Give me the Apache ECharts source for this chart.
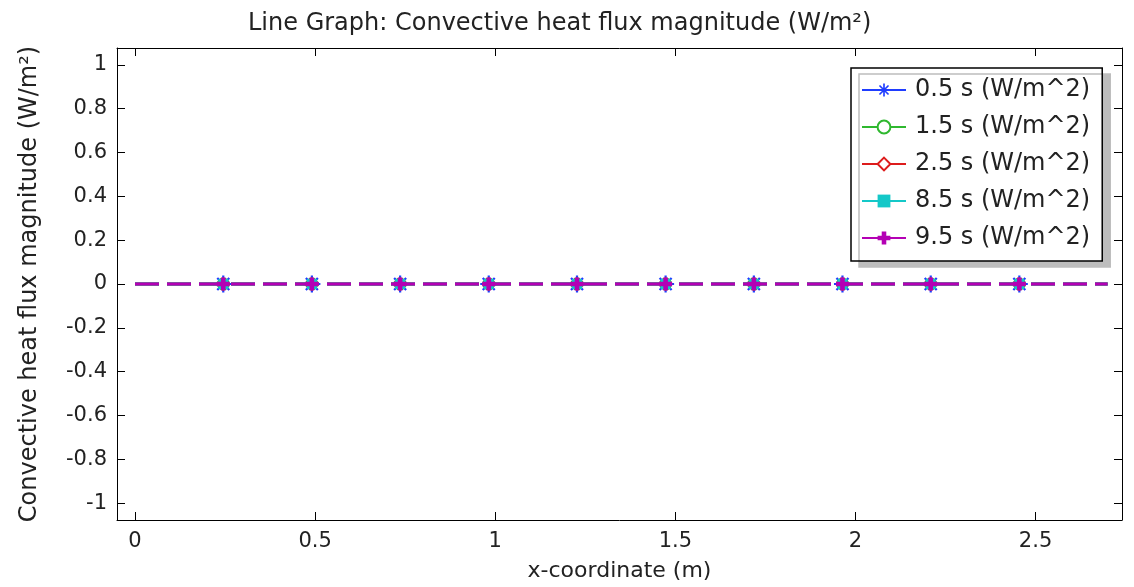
<!DOCTYPE html>
<html>
<head>
<meta charset="utf-8">
<script src="https://cdn.jsdelivr.net/npm/echarts@6/dist/echarts.min.js"></script>
<style>html,body{margin:0;padding:0;background:#fff;overflow:hidden;}#c{width:1134px;height:587px;}</style>
</head>
<body>
<div id="c"></div>
<script>
var titleText = 'Line Graph: Convective heat flux magnitude (W/m²)';
var xName = 'x-coordinate (m)';
var yName = 'Convective heat flux magnitude (W/m²)';
var seriesNames = ['0.5 s (W/m^2)', '1.5 s (W/m^2)', '2.5 s (W/m^2)', '8.5 s (W/m^2)', '9.5 s (W/m^2)'];
var xCoords = [0, 0.245, 0.491, 0.736, 0.982, 1.227, 1.473, 1.718, 1.964, 2.209, 2.455, 2.7];
var s05 = [0, 0, 0, 0, 0, 0, 0, 0, 0, 0, 0, 0];
var s15 = [0, 0, 0, 0, 0, 0, 0, 0, 0, 0, 0, 0];
var s25 = [0, 0, 0, 0, 0, 0, 0, 0, 0, 0, 0, 0];
var s85 = [0, 0, 0, 0, 0, 0, 0, 0, 0, 0, 0, 0];
var s95 = [0, 0, 0, 0, 0, 0, 0, 0, 0, 0, 0, 0];
var markerIdx = [1, 2, 3, 4, 5, 6, 7, 8, 9, 10];
var xTicks = [0, 0.5, 1, 1.5, 2, 2.5];
var yTicks = [-1, -0.8, -0.6, -0.4, -0.2, 0, 0.2, 0.4, 0.6, 0.8, 1];

var FONT = 'DejaVu Sans';
var colors = ['#1f3dff', '#2fb82f', '#dd1c1c', '#14c8c8', '#b400b4'];
var asterisk = 'path://M-1.3,-10L1.3,-10L1.3,10L-1.3,10Z M-10,-1.3L10,-1.3L10,1.3L-10,1.3Z M-7.99,-6.15L-6.15,-7.99L7.99,6.15L6.15,7.99Z M-6.15,7.99L-7.99,6.15L6.15,-7.99L7.99,-6.15Z';
var plus = 'path://M-2.5,-7L2.5,-7L2.5,-2.5L7,-2.5L7,2.5L2.5,2.5L2.5,7L-2.5,7L-2.5,2.5L-7,2.5L-7,-2.5L-2.5,-2.5Z';
var symbols = [asterisk, 'emptyCircle', 'emptyDiamond', 'rect', plus];
var sizes = [17, 11, 11, 10, 13];
var allData = [s05, s15, s25, s85, s95];

function buildData(vals) {
  return xCoords.map(function (x, i) {
    var item = { value: [x, vals[i]] };
    if (markerIdx.indexOf(i) < 0) item.symbol = 'none';
    return item;
  });
}

var XMIN = -0.05, XMAX = 2.74, YMIN = -1.077, YMAX = 1.077;

var chart = echarts.init(document.getElementById('c'), null, { renderer: 'canvas', width: 1134, height: 587 });
var axisLine = { show: true, onZero: false, lineStyle: { color: '#000', width: 1 } };
var option = {
  animation: false,
  backgroundColor: '#fff',
  title: {
    text: titleText, left: 243, top: 7,
    textStyle: { fontFamily: FONT, fontSize: 24, fontWeight: 'normal', color: '#222' }
  },
  grid: { left: 117, width: 1005, top: 48, height: 478, containLabel: false },
  legend: {
    orient: 'vertical', left: 851, top: 68,
    backgroundColor: '#fff', borderColor: '#000', borderWidth: 1.5,
    shadowColor: '#bdbdbd', shadowBlur: 0, shadowOffsetX: 8, shadowOffsetY: 6,
    padding: [10, 12, 11, 10], itemGap: 13, itemWidth: 44, itemHeight: 16,
    lineStyle: { type: 'solid', width: 2 },
    textStyle: { fontFamily: FONT, fontSize: 24, color: '#222', padding: [0, 0, 0, 4] },
    data: seriesNames
  },
  xAxis: [{
    type: 'value', min: XMIN, max: XMAX,
    name: xName, nameLocation: 'middle', nameGap: 40,
    nameTextStyle: { fontFamily: FONT, fontSize: 22, color: '#222' },
    axisLine: axisLine,
    axisTick: { show: true, inside: true, length: 8, customValues: xTicks, lineStyle: { color: '#000' } },
    axisLabel: { customValues: xTicks, fontFamily: FONT, fontSize: 21, color: '#222', margin: 11 },
    splitLine: { show: false }
  }, {
    type: 'value', min: XMIN, max: XMAX, position: 'top',
    axisLine: axisLine,
    axisTick: { show: true, inside: true, length: 8, customValues: xTicks, lineStyle: { color: '#000' } },
    axisLabel: { show: false },
    splitLine: { show: false }
  }],
  yAxis: [{
    type: 'value', min: YMIN, max: YMAX,
    name: yName, nameLocation: 'middle', nameGap: 75,
    nameTextStyle: { fontFamily: FONT, fontSize: 24, color: '#222' },
    axisLine: axisLine,
    axisTick: { show: true, inside: true, length: 8, customValues: yTicks, lineStyle: { color: '#000' } },
    axisLabel: { customValues: yTicks, fontFamily: FONT, fontSize: 21, color: '#222', margin: 10 },
    splitLine: { show: false }
  }, {
    type: 'value', min: YMIN, max: YMAX, position: 'right',
    axisLine: axisLine,
    axisTick: { show: true, inside: true, length: 8, customValues: yTicks, lineStyle: { color: '#000' } },
    axisLabel: { show: false },
    splitLine: { show: false }
  }],
  series: seriesNames.map(function (n, k) {
    return {
      name: n, type: 'line', xAxisIndex: 0, yAxisIndex: 0,
      data: buildData(allData[k]),
      symbol: symbols[k], symbolSize: sizes[k], showAllSymbol: true,
      color: colors[k],
      itemStyle: { color: colors[k], borderColor: colors[k], borderWidth: k === 1 || k === 2 ? 2 : 0 },
      lineStyle: { color: colors[k], width: 3, type: [24, 8] },
      z: 2 + k
    };
  })
};
chart.setOption(option);
</script>
</body>
</html>
